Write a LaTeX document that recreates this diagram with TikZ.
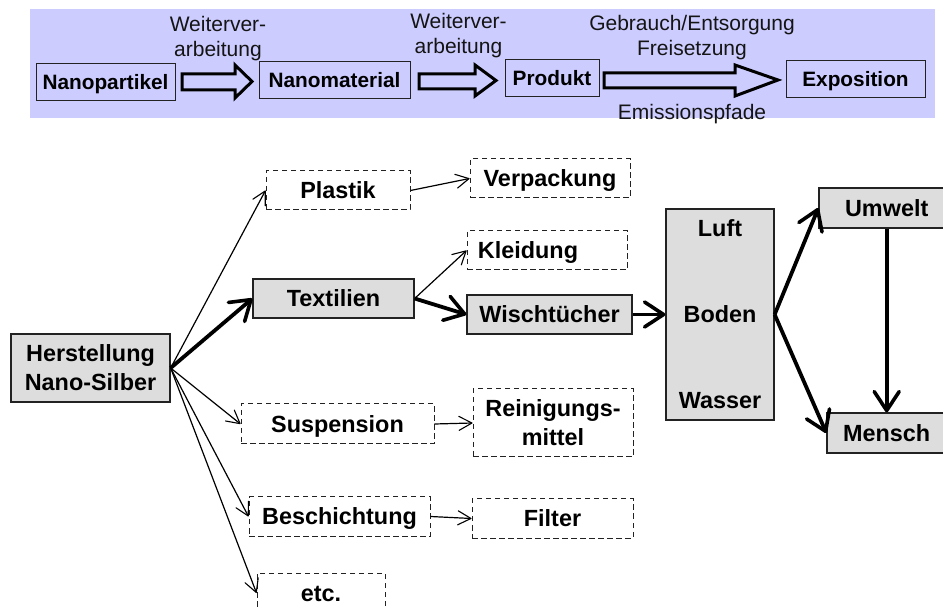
\documentclass[tikz,border=0pt]{standalone}
\usepackage{fontspec}
\setmainfont{Liberation Sans}
\usetikzlibrary{arrows.meta}
\definecolor{band}{HTML}{CCCCFF}
\definecolor{boxgray}{HTML}{DDDDDD}
\definecolor{edge}{HTML}{222222}
\tikzset{
  topbox/.style={draw=edge,line width=1pt,inner sep=0pt,text height=14.9pt,text depth=0pt,font=\fontsize{20.8}{25}\selectfont\bfseries},
  lowbox/.style={inner sep=0pt,text height=16.8pt,text depth=0pt,font=\fontsize{23.4}{29}\selectfont\bfseries},
  graybox/.style={lowbox,draw=edge,line width=1.3pt,fill=boxgray},
  dashbox/.style={lowbox,draw=edge,line width=1pt,dash pattern=on 5.5pt off 3.5pt},
  twoline/.style={align=center,text height=,text depth=},
  note/.style={inner sep=0pt,anchor=base,align=center,text=black!92,font=\fontsize{21}{25}\selectfont},
  thinarrow/.style={-{Straight Barb[round,length=13pt,width=14pt,line width=1.1pt]},line width=1.2pt,black},
  thickarrow/.style={-{Straight Barb[round,length=19pt,width=25pt,line width=3.6pt]},line width=3.8pt,black},
  blockarrow/.style={draw=black,line width=3pt,miter limit=10,fill=band},
}
\begin{document}
\begin{tikzpicture}[x=1pt,y=-1pt]
\useasboundingbox (0,0) rectangle (943,609);
\clip (0,0) rectangle (943,609);
\fill[band] (30,9) rectangle (935,118);
% top row
\node[topbox,minimum width=139pt,minimum height=37pt] (np) at (105.5,82.5) {Nanopartikel};
\node[topbox,minimum width=151pt,minimum height=37pt] (nm) at (334.5,80.5) {Nanomaterial};
\node[topbox,minimum width=94pt,minimum height=37pt] (pr) at (552,78.5) {Produkt};
\node[topbox,minimum width=139pt,minimum height=37pt] (ex) at (855.5,79.5) {Exposition};
\draw[blockarrow] (182,74) -- (235,74) -- (235,65) -- (252,81.5) -- (235,98) -- (235,90) -- (182,90) -- cycle;
\draw[blockarrow] (419,74) -- (475,74) -- (475,65) -- (496,80.5) -- (475,96) -- (475,89) -- (419,89) -- cycle;
\draw[blockarrow] (604,73) -- (735,73) -- (735,65) -- (778,80) -- (735,96) -- (735,88) -- (604,88) -- cycle;
\node[note] (w1) at (218,56.7) {Weiterver-\\arbeitung};
\node[note] (w2) at (458.5,54) {Weiterver-\\arbeitung};
\node[note] (g1) at (692,55.5) {Gebrauch/Entsorgung\\Freisetzung};
\node[note] (e1) at (692,119.5) {Emissionspfade};
% lower diagram
\node[graybox,twoline,minimum width=159pt,minimum height=68pt] (he) at (90.5,368) {Herstellung\\Nano-Silber};
\node[dashbox,minimum width=144pt,minimum height=39pt] (pl) at (338,190.5) {Plastik};
\node[dashbox,minimum width=160pt,minimum height=39pt] (ve) at (550,178.5) {Verpackung};
\node[dashbox,minimum width=160pt,minimum height=39pt] (kl) at (547,250.5) {Kleidung\hspace{38pt}\mbox{}};
\node[graybox,minimum width=161pt,minimum height=39pt] (te) at (333.5,298.5) {Textilien};
\node[graybox,minimum width=165pt,minimum height=39pt] (wi) at (549.5,314.5) {Wischtücher};
\node[dashbox,minimum width=193pt,minimum height=40pt] (su) at (337.5,424) {Suspension};
\node[dashbox,twoline,minimum width=160pt,minimum height=68pt] (re) at (553,423) {Reinigungs-\\mittel};
\node[dashbox,minimum width=181pt,minimum height=39pt] (be) at (339.5,516.5) {Beschichtung};
\node[dashbox,minimum width=161pt,minimum height=39pt] (fi) at (552.5,518.5) {Filter};
\node[dashbox,minimum width=128pt,minimum height=40pt] (et) at (321,593) {etc.};
\node[graybox,align=center,text height=,text depth=,font=\fontsize{23.4}{86}\selectfont\bfseries,minimum width=108pt,minimum height=211pt] (lu) at (720,314.5) {Luft\\Boden\\Wasser};
\node[graybox,minimum width=135.4pt,minimum height=40pt] (um) at (886.7,208) {Umwelt};
\node[graybox,minimum width=119.4pt,minimum height=40pt] (me) at (886.7,433) {Mensch};
% connectors
\draw[thinarrow] (he.east) -- (pl.west);
\draw[thickarrow] (he.east) -- (te.west);
\draw[thinarrow] (he.east) -- (su.west);
\draw[thinarrow] (he.east) -- (be.west);
\draw[thinarrow] (he.east) -- (et.west);
\draw[thinarrow] (pl.east) -- (ve.west);
\draw[thinarrow] (te.east) -- (kl.west);
\draw[thickarrow] (te.east) -- (wi.west);
\draw[thinarrow] (su.east) -- (re.west);
\draw[thinarrow] (be.east) -- (fi.west);
\draw[thickarrow] (wi.east) -- (lu.west);
\draw[thickarrow] (lu.east) -- (um.west);
\draw[thickarrow] (lu.east) -- (me.west);
\draw[thickarrow] (um.south) -- (me.north);
\end{tikzpicture}
\end{document}
